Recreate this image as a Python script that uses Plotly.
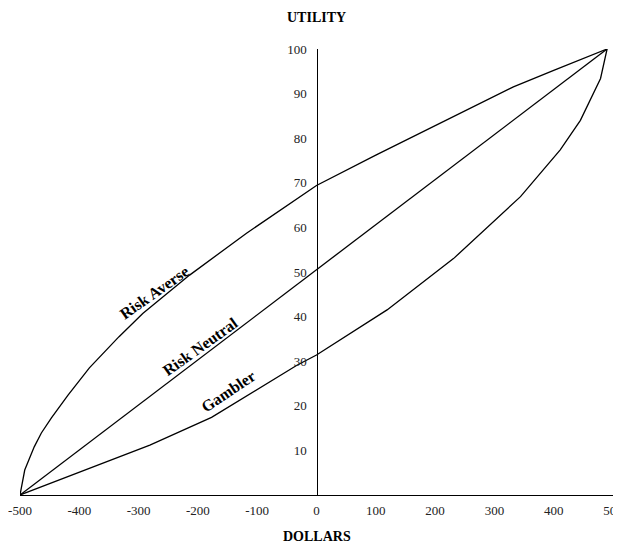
import plotly.graph_objects as go

# ---- data ----
averse_x = [-500, -492, -476, -464, -447, -419, -383, -333, -293, -214, -118, -40, 0, 100, 158, 200, 332, 400, 490]
averse_y = [0, 5.6, 10.8, 13.9, 17.3, 22.4, 28.5, 35.5, 40.7, 49.3, 58.7, 65.8, 69.4, 76.2, 80.0, 82.8, 91.5, 95.2, 100]

neutral_x = [-500, 490]
neutral_y = [0, 100]

gambler_x = [-500, -332, -281, -177, -33, 0, 119, 231, 344, 411, 445, 479, 490]
gambler_y = [0, 8.6, 11.2, 17.4, 29.1, 31.4, 41.5, 53.0, 66.9, 77.4, 84.0, 93.4, 100]

x_ticks = [-500, -400, -300, -200, -100, 0, 100, 200, 300, 400, 500]
x_tick_text = ["-500", "-400", "-300", "-200", "-100", "0", "100", "200", "300", "400", "500"]
y_ticks = [10, 20, 30, 40, 50, 60, 70, 80, 90, 100]

curve_labels = ["Risk Averse", "Risk Neutral", "Gambler"]

SERIF = "Times New Roman, Liberation Serif, serif"

fig = go.Figure()
for xs, ys, name in [(averse_x, averse_y, curve_labels[0]),
                     (neutral_x, neutral_y, curve_labels[1]),
                     (gambler_x, gambler_y, curve_labels[2])]:
    fig.add_trace(go.Scatter(x=xs, y=ys, mode="lines", name=name,
                             line=dict(color="black", width=1.3),
                             hoverinfo="skip", cliponaxis=False))

label_pos = [(-274, 45.5, -35), (-196, 33.4, -35.5), (-149, 23.1, -34)]
for text, (lx, ly, ang) in zip(curve_labels, label_pos):
    fig.add_annotation(x=lx, y=ly, xref="x", yref="y", text="<b>%s</b>" % text,
                       showarrow=False, textangle=ang,
                       font=dict(family=SERIF, size=16, color="black"))

fig.add_annotation(x=0.5, y=1.0717, xref="paper", yref="paper", yanchor="middle",
                   text="<b>UTILITY</b>", showarrow=False,
                   font=dict(family=SERIF, size=14, color="black"))
fig.add_annotation(x=0.5, y=-0.094, xref="paper", yref="paper", yanchor="middle",
                   text="<b>DOLLARS</b>", showarrow=False,
                   font=dict(family=SERIF, size=14, color="black"))

fig.update_layout(
    width=613, height=538,
    margin=dict(l=12, r=8, t=41, b=51, autoexpand=False),
    paper_bgcolor="white", plot_bgcolor="white",
    showlegend=False,
    xaxis=dict(range=[-500, 500], tickvals=x_ticks, ticktext=x_tick_text, ticks="",
               showgrid=False, zeroline=False, showline=True, linecolor="black",
               linewidth=1.3, ticklabelstandoff=3, automargin=False,
               ticklabeloverflow="allow",
               tickfont=dict(family=SERIF, size=13, color="#222")),
    yaxis=dict(range=[0, 100], tickvals=y_ticks, ticks="", showgrid=False,
               zeroline=False, showline=True, linecolor="black", linewidth=1.3,
               anchor="free", position=0.5, ticklabelstandoff=7, automargin=False,
               tickfont=dict(family=SERIF, size=13, color="#222")),
)

fig.write_html("out.html")
